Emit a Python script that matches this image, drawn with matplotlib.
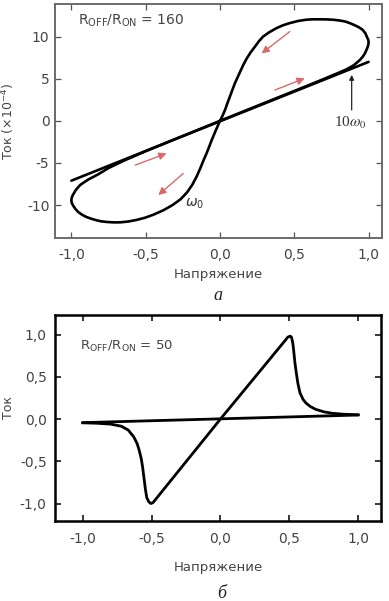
import matplotlib
matplotlib.use("Agg")
import matplotlib.pyplot as plt

# panel a: omega0 loop (volts, current x1e-4)
V_LOOP = [0.0, 0.017, 0.034, 0.05, 0.067, 0.084, 0.10, 0.118, 0.135, 0.157, 0.18,
          0.207, 0.235, 0.262, 0.29, 0.33, 0.38, 0.425, 0.47, 0.525, 0.58, 0.625,
          0.67, 0.715, 0.76, 0.80, 0.84, 0.87, 0.90, 0.935, 0.96, 0.978, 0.99,
          0.998, 1.0, 0.997, 0.99, 0.975, 0.96, 0.94, 0.92, 0.90, 0.875, 0.85,
          0.80, 0.75, 0.70, 0.55, 0.40, 0.20, 0.0,
          -0.015, -0.03, -0.043, -0.056, -0.068, -0.08, -0.095, -0.11, -0.133,
          -0.157, -0.187, -0.22, -0.265, -0.32, -0.38, -0.45, -0.505, -0.56,
          -0.615, -0.67, -0.715, -0.76, -0.80, -0.83, -0.865, -0.90, -0.93,
          -0.955, -0.975, -0.99, -0.998, -1.0, -0.997, -0.99, -0.97, -0.94,
          -0.89, -0.82, -0.75, -0.65, -0.50, -0.30, -0.10, 0.0]
I_LOOP = [0.0, 0.6, 1.3, 2.1, 2.9, 3.7, 4.45, 5.15, 5.8, 6.65, 7.4,
          8.15, 8.8, 9.45, 10.0, 10.5, 11.0, 11.35, 11.6, 11.85, 12.0, 12.05,
          12.05, 12.04, 12.0, 11.92, 11.8, 11.62, 11.4, 11.1, 10.8, 10.4, 9.9,
          9.6, 9.3, 8.95, 8.6, 8.0, 7.6, 7.2, 6.9, 6.6, 6.35, 6.1,
          5.72, 5.35, 4.98, 3.9, 2.84, 1.42, 0.0,
          -0.6, -1.2, -1.75, -2.3, -2.85, -3.4, -4.05, -4.65, -5.65,
          -6.6, -7.6, -8.45, -9.3, -10.0, -10.6, -11.15, -11.5, -11.75,
          -11.94, -12.04, -12.05, -12.0, -11.92, -11.8, -11.62, -11.4, -11.12,
          -10.8, -10.4, -10.0, -9.7, -9.4, -9.1, -8.8, -8.2, -7.6,
          -7.0, -6.35, -5.6, -4.75, -3.6, -2.15, -0.72, 0.0]

# 10*omega0 curve (collapsed to a line)
V_FAST = [-1.0, 1.0]
I_FAST = [-7.1, 7.0]

# direction arrows (tail, head)
ARROW_TAILS = [(0.47, 10.6), (0.37, 3.66), (-0.57, -5.25), (-0.247, -6.24)]
ARROW_HEADS = [(0.28, 8.0), (0.57, 5.05), (-0.36, -3.86), (-0.415, -8.8)]

# panel b
V_OFF = [-1.0, 1.0]
I_OFF = [-0.043, 0.047]
V_SPIKE = [-1.0, -0.9, -0.8, -0.72, -0.67, -0.63, -0.605, -0.59, -0.575, -0.565,
           -0.555, -0.545, -0.535, -0.52, -0.505, -0.49, 0.0, 0.49, 0.505, 0.515,
           0.525, 0.532, 0.54, 0.55, 0.562, 0.577, 0.60, 0.62, 0.65, 0.69, 0.75,
           0.81, 0.90, 1.0]
I_SPIKE = [-0.045, -0.05, -0.06, -0.085, -0.13, -0.21, -0.29, -0.37, -0.47, -0.57,
           -0.70, -0.83, -0.93, -0.98, -1.0, -0.99, 0.0, 0.97, 0.98, 0.97,
           0.90, 0.80, 0.67, 0.55, 0.42, 0.31, 0.23, 0.19, 0.15, 0.115, 0.085,
           0.068, 0.056, 0.05]

X_TICKS = [-1.0, -0.5, 0.0, 0.5, 1.0]
X_LABELS = ["-1,0", "-0,5", "0,0", "0,5", "1,0"]
YA_TICKS = [-10, -5, 0, 5, 10]
YA_LABELS = ["-10", "-5", "0", "5", "10"]
YB_TICKS = [-1.0, -0.5, 0.0, 0.5, 1.0]
YB_LABELS = ["-1,0", "-0,5", "0,0", "0,5", "1,0"]

TXT = "#444444"

fig = plt.figure(figsize=(3.89, 6.01), dpi=100)
ax1 = fig.add_axes([0.1414, 0.604, 0.8406, 0.3894])
ax2 = fig.add_axes([0.1414, 0.1331, 0.838, 0.3428])

# ---- panel a
ax1.plot(V_FAST, I_FAST, color="black", lw=1.9, solid_capstyle="round")
ax1.plot(V_LOOP, I_LOOP, color="black", lw=1.9, solid_joinstyle="round")
for (x0, y0), (x1, y1) in zip(ARROW_TAILS, ARROW_HEADS):
    ax1.annotate("", xy=(x1, y1), xytext=(x0, y0),
                 arrowprops=dict(arrowstyle="-|>", color="#d96a6a", lw=1.0,
                                 mutation_scale=11, shrinkA=0, shrinkB=0))
ax1.annotate("", xy=(0.886, 5.45), xytext=(0.886, 1.3),
             arrowprops=dict(arrowstyle="-|>", color="#222222", lw=0.9,
                             mutation_scale=7, shrinkA=0, shrinkB=0))
ax1.text(0.88, -0.3, r"10$\omega_0$", ha="center", va="center", fontsize=11,
         color="#333333", family="Liberation Serif", math_fontfamily="stix")
ax1.text(-0.168, -9.8, r"$\omega_0$", ha="center", va="center", fontsize=10,
         color="#333333")
ax1.text(0.07, 0.93, r"R$_{\mathrm{OFF}}$/R$_{\mathrm{ON}}$ = 160",
         transform=ax1.transAxes, ha="left", va="center", fontsize=10, color=TXT)
ax1.set_xlim(-1.11, 1.09)
ax1.set_ylim(-13.9, 13.87)
ax1.set_yticks(YA_TICKS)
ax1.set_yticklabels(YA_LABELS)
ax1.set_xticks(X_TICKS)
ax1.set_xticklabels(X_LABELS)
ax1.tick_params(direction="in", top=True, right=True, length=4, width=0.9,
                labelsize=10, labelcolor=TXT, color="#555555")
ax1.tick_params(axis="x", pad=7)
ax1.tick_params(axis="y", pad=4)
for s in ax1.spines.values():
    s.set_color("#6a6a6a")
    s.set_linewidth(1.4)
ax1.set_xlabel("Напряжение", fontsize=9.5, color=TXT)
ax1.set_ylabel("Ток (×10$^{-4}$)", fontsize=9, color=TXT)
ax1.xaxis.set_label_coords(0.5, -0.128)
ax1.yaxis.set_label_coords(-0.115, 0.5)

# ---- panel b
ax2.plot(V_OFF, I_OFF, color="black", lw=2.0, solid_capstyle="round")
ax2.plot(V_SPIKE, I_SPIKE, color="black", lw=2.0, solid_joinstyle="round")
ax2.text(0.077, 0.845, r"R$_{\mathrm{OFF}}$/R$_{\mathrm{ON}}$ = 50",
         transform=ax2.transAxes, ha="left", va="center", fontsize=9.5, color=TXT)
ax2.set_xlim(-1.201, 1.165)
ax2.set_ylim(-1.207, 1.231)
ax2.set_xticks(X_TICKS)
ax2.set_xticklabels(X_LABELS)
ax2.set_yticks(YB_TICKS)
ax2.set_yticklabels(YB_LABELS)
ax2.tick_params(direction="in", top=True, right=True, length=4.5, width=1.1,
                labelsize=10, labelcolor=TXT, color="black")
ax2.tick_params(axis="x", pad=8)
ax2.tick_params(axis="y", pad=6)
for s in ax2.spines.values():
    s.set_color("black")
    s.set_linewidth(1.8)
ax2.set_xlabel("Напряжение", fontsize=9.5, color=TXT)
ax2.set_ylabel("Ток", fontsize=9, color=TXT)
ax2.xaxis.set_label_coords(0.5, -0.194)
ax2.yaxis.set_label_coords(-0.122, 0.55)

fig.text(218 / 389, 1 - 295 / 601, "а", ha="center", va="center", fontsize=13,
         style="italic", family="Liberation Serif", color="#222222")
fig.text(222 / 389, 1 - 593 / 601, "б", ha="center", va="center", fontsize=13,
         style="italic", family="Liberation Serif", color="#222222")

fig.savefig("out.png", dpi=100)
